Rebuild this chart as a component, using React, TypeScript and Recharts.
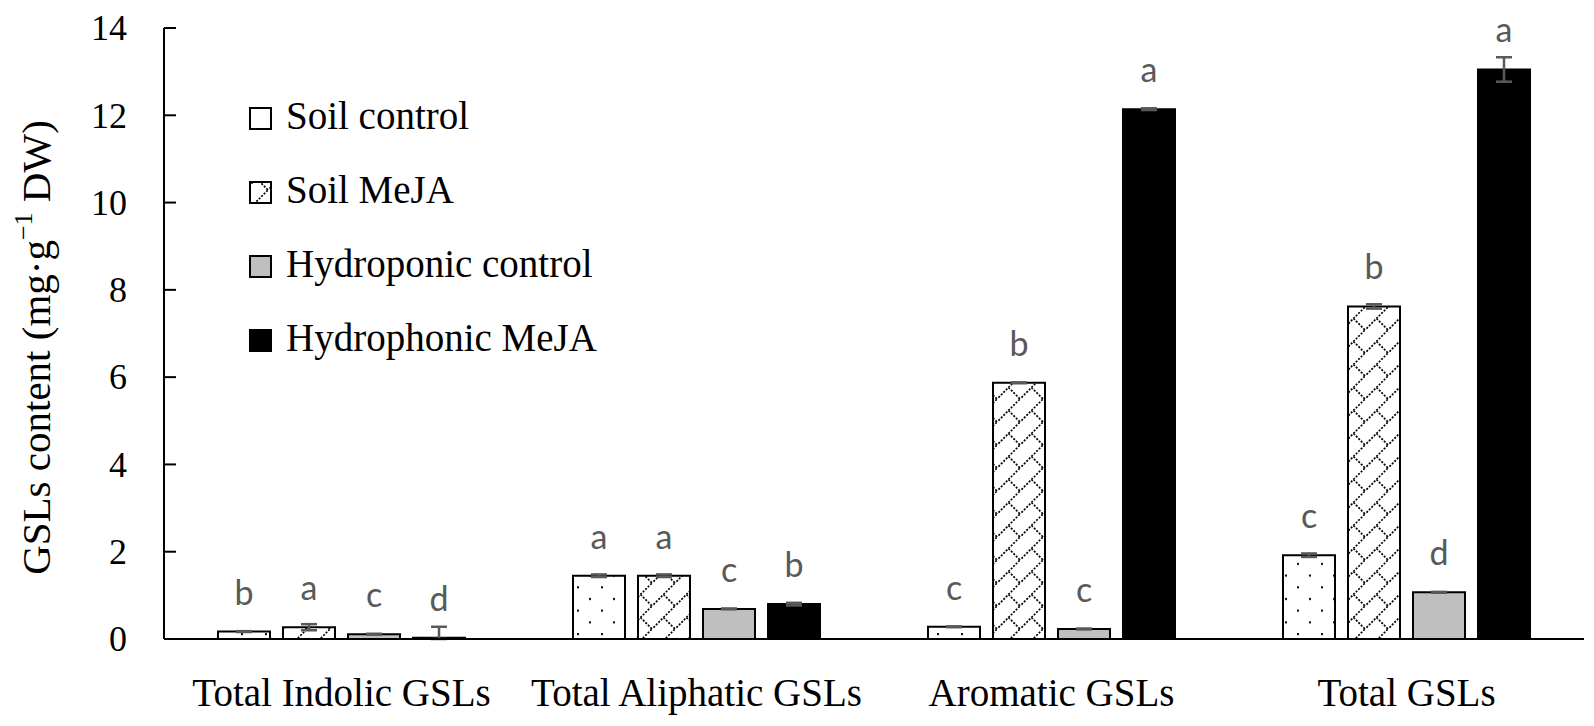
import React from "react"
import { Bar, BarChart, ErrorBar, LabelList, Legend, XAxis, YAxis } from "recharts"

const categories = ["Total Indolic GSLs", "Total Aliphatic GSLs", "Aromatic GSLs", "Total GSLs"]
const seriesNames = ["Soil control", "Soil MeJA", "Hydroponic control", "Hydrophonic MeJA"]

const soilControl = [0.17, 1.45, 0.28, 1.92]
const soilControlErr = [0.01, 0.03, 0.01, 0.04]
const soilControlSig = ["b", "a", "c", "c"]

const soilMeja = [0.27, 1.45, 5.87, 7.62]
const soilMejaErr = [0.07, 0.03, 0.01, 0.05]
const soilMejaSig = ["a", "a", "b", "b"]

const hydroControl = [0.11, 0.69, 0.23, 1.07]
const hydroControlErr = [0.01, 0.01, 0.01, 0.01]
const hydroControlSig = ["c", "c", "c", "d"]

const hydroMeja = [0.03, 0.8, 12.14, 13.05]
const hydroMejaErr: (number | number[])[] = [[0.03, 0.25], 0.03, 0.02, 0.28]
const hydroMejaSig = ["d", "b", "a", "a"]

const yTicks = [0, 2, 4, 6, 8, 10, 12, 14]

const series = [
  { key: "soilControl", fill: "url(#dots)" },
  { key: "soilMeja", fill: "url(#brick)" },
  { key: "hydroControl", fill: "#bfbfbf" },
  { key: "hydroMeja", fill: "#000000" },
]

const data = categories.map((name, i) => ({
  name,
  soilControl: soilControl[i],
  soilControlErr: soilControlErr[i],
  soilControlSig: soilControlSig[i],
  soilMeja: soilMeja[i],
  soilMejaErr: soilMejaErr[i],
  soilMejaSig: soilMejaSig[i],
  hydroControl: hydroControl[i],
  hydroControlErr: hydroControlErr[i],
  hydroControlSig: hydroControlSig[i],
  hydroMeja: hydroMeja[i],
  hydroMejaErr: hydroMejaErr[i],
  hydroMejaSig: hydroMejaSig[i],
}))

const serif = "'Liberation Serif', 'Times New Roman', serif"
const sans = "Lato, 'Open Sans', sans-serif"

function YTick({ x, y, payload }: any) {
  return (
    <g>
      <line x1={x} x2={x + 12} y1={y} y2={y} stroke="#000" strokeWidth={2} />
      <text x={x - 37} y={y} dy="0.34em" textAnchor="end" fontFamily={serif} fontSize={36} fill="#000">
        {payload.value}
      </text>
    </g>
  )
}

function XTick({ x, y, payload }: any) {
  return (
    <text x={x} y={y + 67} textAnchor="middle" fontFamily={serif} fontSize={39} fill="#000">
      {payload.value}
    </text>
  )
}

function YTitle({ viewBox }: any) {
  const cx = viewBox.x + 28
  const cy = viewBox.y + viewBox.height / 2 + 14
  return (
    <text
      x={cx}
      y={cy}
      transform={`rotate(-90 ${cx} ${cy})`}
      textAnchor="middle"
      dominantBaseline="central"
      fontFamily={serif}
      fontSize={41}
      fill="#000"
    >
      GSLs content (mg·g
      <tspan dy={-13} fontSize={26}>−1</tspan>
      <tspan dy={13}> DW)</tspan>
    </text>
  )
}

function SigLabel(props: any) {
  const { x, y, width, value } = props
  return (
    <text x={Number(x) + Number(width) / 2} y={Number(y) - 27} textAnchor="middle" fontFamily={sans} fontSize={34} fill="#595959">
      {value}
    </text>
  )
}

function LegendBox() {
  return (
    <svg width={480} height={320} style={{ overflow: "visible" }}>
      {seriesNames.map((label, i) => (
        <g key={label}>
          <rect
            x={5}
            y={10 + 74 * i}
            width={21}
            height={21}
            fill={i === 0 ? "#fff" : series[i].fill}
            stroke="#000"
            strokeWidth={2}
          />
          <text x={41} y={31 + 74 * i} fontFamily={serif} fontSize={39} fill="#000">
            {label}
          </text>
        </g>
      ))}
    </svg>
  )
}

export default function App() {
  return (
    <div style={{ position: "relative", width: 1580, height: 708 }}>
      <svg width={0} height={0} style={{ position: "absolute" }}>
        <defs>
          <pattern id="dots" width={24} height={23.4} patternUnits="userSpaceOnUse">
            <rect width={24} height={23.4} fill="#fff" />
            <rect x={5} y={5} width={2} height={2} fill="#000" />
            <rect x={17} y={16.7} width={2} height={2} fill="#000" />
          </pattern>
          <pattern id="brick" width={23} height={23} patternUnits="userSpaceOnUse">
            <rect width={23} height={23} fill="#fff" />
            <path d="M-1,24 L24,-1 M11.5,11.5 L24,24" stroke="#000" strokeWidth={1.7} strokeDasharray="2 1.5" />
          </pattern>
        </defs>
      </svg>
      <BarChart
        width={1580}
        height={708}
        data={data}
        margin={{ top: 20, right: 4, left: 0, bottom: 0 }}
        barSize={52}
        barGap={13}
      >
        <XAxis
          dataKey="name"
          height={77}
          tickLine={false}
          tickSize={0}
          tickMargin={0}
          axisLine={{ stroke: "#000", strokeWidth: 2 }}
          tick={<XTick />}
          interval={0}
        />
        <YAxis
          width={156}
          domain={[0, 14]}
          ticks={yTicks}
          interval={0}
          tickLine={false}
          tickSize={0}
          tickMargin={0}
          axisLine={{ stroke: "#000", strokeWidth: 2 }}
          tick={<YTick />}
          label={<YTitle />}
        />
        <Legend
          layout="vertical"
          align="center"
          verticalAlign="middle"
          wrapperStyle={{ left: 237, top: 90, width: 480 }}
          content={() => <LegendBox />}
        />
        {series.map((s, i) => (
          <Bar
            key={s.key}
            dataKey={s.key}
            name={seriesNames[i]}
            fill={s.fill}
            stroke="#000"
            strokeWidth={2}
            isAnimationActive={false}
          >
            <ErrorBar dataKey={`${s.key}Err`} width={8} stroke="#595959" strokeWidth={2.5} direction="y" />
            <LabelList dataKey={`${s.key}Sig`} content={<SigLabel />} />
          </Bar>
        ))}
      </BarChart>
    </div>
  )
}
